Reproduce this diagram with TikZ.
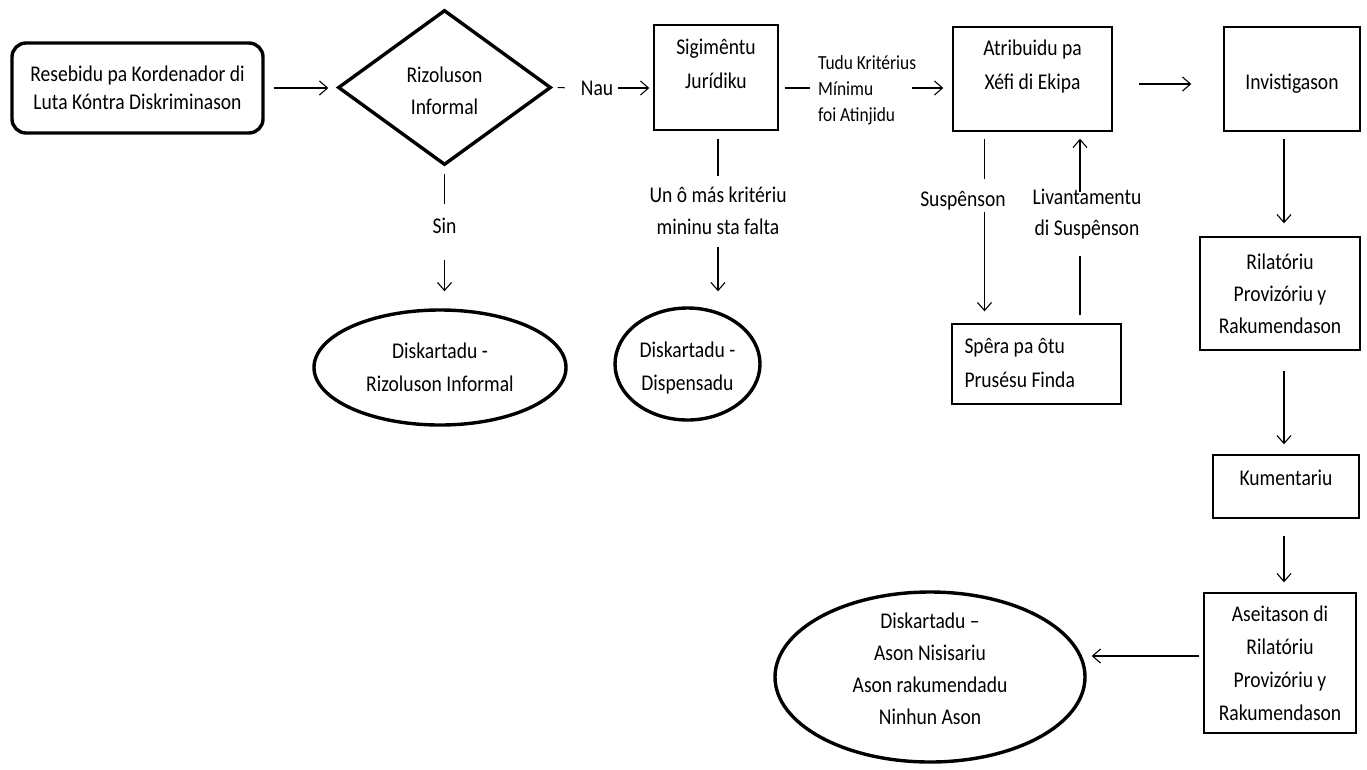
\documentclass[tikz,border=0pt]{standalone}
\usepackage{fontspec}
\setmainfont{Carlito}[FakeStretch=0.87]
\usetikzlibrary{shapes.geometric,arrows.meta}
\begin{document}
\begin{tikzpicture}[x=1pt,y=-1pt,
  conn/.style={line width=1.1pt},
  arr/.style={line width=1.1pt,-{Straight Barb[length=8pt,width=14pt]}},
  txt/.style={font=\fontsize{22.5}{33}\selectfont},
  box/.style={draw,line width=1.4pt,inner sep=0pt,align=center,txt},
  heavy/.style={draw,line width=3.4pt,inner sep=0pt,align=center,txt},
  lbl/.style={inner sep=0pt,align=center,txt},
]
\useasboundingbox (0,0) rectangle (1367,769);
% main shapes
\node[heavy,rounded corners=14pt,minimum width=251pt,minimum height=90pt,
      font=\fontsize{22.5}{28}\selectfont] (start) at (137.5,88)
      {Resebidu pa Kordenador di\\Luta Kóntra Diskriminason};
\node[heavy,diamond,minimum width=213pt,minimum height=155pt,
      label={[lbl,yshift=-3pt,font=\fontsize{22.5}{32}\selectfont]center:{Rizoluson\\Informal}}] (dia) at (444.5,87.5) {};
\node[box,minimum width=124pt,minimum height=105pt,
      label={[lbl,anchor=north,yshift=-15pt,font=\fontsize{22.5}{34}\selectfont]north:{Sigimêntu\\Jurídiku}}] (sig) at (716,77.5) {};
\node[box,minimum width=159pt,minimum height=104pt,
      label={[lbl,anchor=north,yshift=-13.5pt,font=\fontsize{22.5}{34}\selectfont]north:{Atribuidu pa\\Xéfi di Ekipa}}] (atr) at (1032.5,79) {};
\node[box,minimum width=136pt,minimum height=104pt,
      label={[lbl,yshift=-5pt]center:{Invistigason}}] (inv) at (1292,79) {};
\node[box,minimum width=160pt,minimum height=113pt,
      font=\fontsize{22.5}{32}\selectfont] (ril) at (1280,293.5) {Rilatóriu\\Provizóriu y\\Rakumendason};
\node[box,minimum width=146pt,minimum height=63pt,
      label={[lbl,anchor=north,yshift=-16pt]north:{Kumentariu}}] (kum) at (1286,486.5) {};
\node[box,minimum width=152pt,minimum height=140pt,
      font=\fontsize{22.5}{33}\selectfont] (ase) at (1280,663) {Aseitason di\\Rilatóriu\\Provizóriu y\\Rakumendason};
\node[box,minimum width=169pt,minimum height=80pt,
      label={[lbl,anchor=north west,align=left,xshift=13pt,yshift=-15pt,font=\fontsize{22.5}{34}\selectfont]north west:{Spêra pa ôtu\\Prusésu Finda}}] (spera) at (1036.5,364) {};
\node[heavy,ellipse,minimum width=252pt,minimum height=115pt,
      font=\fontsize{22.5}{33}\selectfont] (e1) at (440,367.5) {Diskartadu -\\Rizoluson Informal};
\node[heavy,ellipse,minimum width=145pt,minimum height=112pt,
      label={[lbl,yshift=-4pt,font=\fontsize{22.5}{33}\selectfont]center:{Diskartadu -\\Dispensadu}}] (e2) at (687.5,364) {};
\node[heavy,ellipse,minimum width=310pt,minimum height=170pt,
      label={[lbl,yshift=8pt,font=\fontsize{22.5}{32}\selectfont]center:{Diskartadu –\\Ason Nisisariu\\Ason rakumendadu\\Ninhun Ason}}] (big) at (930,677) {};
% labels
\node[lbl] (nau) at (597,88) {Nau};
\node[lbl,anchor=west,align=left,font=\fontsize{20}{26}\selectfont] (tudu) at (818,90) {Tudu Kritérius\\Mínimu\\foi Atinjidu};
\coordinate (tuduout) at (912,88);
\node[lbl] (sin) at (444.5,226) {Sin};
\node[lbl,font=\fontsize{22.5}{32}\selectfont] (unmas) at (718,211) {Un ô más kritériu\\mininu sta falta};
\node[lbl] (susp) at (963,201) {Suspênson};
\node[lbl,font=\fontsize{22.5}{31}\selectfont] (liv) at (1087,214) {Livantamentu\\di Suspênson};
% connectors
\draw[arr,shorten <=9pt,shorten >=8pt] (start.east) -- (start.east -| dia.west);
\draw[conn,shorten <=5pt,shorten >=16pt] (dia.east) -- (nau.west);
\draw[arr,shorten <=5pt,shorten >=4pt] (nau.east) -- (nau.east -| sig.west);
\draw[conn,shorten <=6pt,shorten >=8pt] (sig.east |- tuduout) -- (tuduout -| tudu.west);
\draw[arr,shorten >=9pt] (tuduout) -- (tuduout -| atr.west);
\draw[arr,shorten <=26pt,shorten >=32pt] ([yshift=-5pt]atr.east) -- ([yshift=-5pt]atr.east -| inv.west);
\draw[arr,shorten <=7pt,shorten >=13pt] ([xshift=-8pt]inv.south) -- ([xshift=-8pt]inv.south |- ril.north);
\draw[arr,shorten <=20pt,shorten >=10pt] ([xshift=4pt]ril.south) -- ([xshift=4pt]ril.south |- kum.north);
\draw[arr,shorten <=17pt,shorten >=10pt] ([xshift=-2pt]kum.south) -- ([xshift=-2pt]kum.south |- ase.north);
\coordinate (aseout) at ([yshift=7pt]ase.west);
\draw[arr,shorten <=4pt,shorten >=5pt] (aseout) -- (aseout -| big.east);
\draw[conn,shorten <=7pt,shorten >=14pt] (dia.south) -- (sin.north);
\draw[arr,shorten <=26pt,shorten >=17pt] (sin.south) -- (sin.south |- e1.north);
\draw[conn,shorten <=8pt,shorten >=11pt] (unmas.north |- sig.south) -- (unmas.north);
\draw[arr,shorten <=12pt,shorten >=15pt] (unmas.south) -- (unmas.south |- e2.north);
\draw[conn,shorten <=7pt,shorten >=12pt] ([xshift=-48pt]atr.south) -- ([xshift=-48pt]atr.south |- susp.north);
\draw[arr,shorten <=1pt,shorten >=12pt] ([xshift=-48pt]atr.south |- susp.south) -- ([xshift=-48pt]atr.south |- spera.north);
\draw[conn,shorten <=8pt,shorten >=17pt] ([xshift=43.5pt]spera.north) -- ([xshift=43.5pt]spera.north |- liv.south);
\draw[arr,shorten <=-3pt,shorten >=7pt] ([xshift=43.5pt]spera.north |- liv.north) -- ([xshift=43.5pt]spera.north |- atr.south);
\end{tikzpicture}
\end{document}
